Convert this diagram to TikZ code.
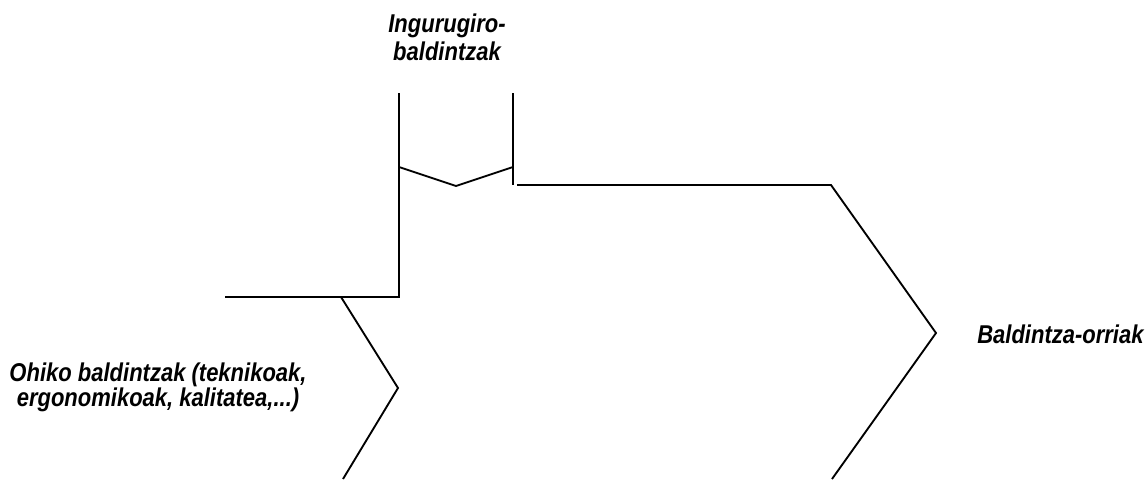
\documentclass[tikz,border=0pt]{standalone}
\usepackage{fontspec}
\setmainfont{Liberation Sans}
\usepackage{graphicx}
\begin{document}
\begin{tikzpicture}[x=0.75pt,y=-0.75pt,
  shapeline/.style={line width=1.4pt, line join=miter},
  lbl/.style={inner sep=0pt, align=center, yscale=1.17, transform shape,
    font=\fontsize{16.5}{18}\selectfont\bfseries\itshape}]
\useasboundingbox (0,0) rectangle (1146,479);
% coordinates
\coordinate (tl) at (399,93);
\coordinate (tr) at (513,93);
\coordinate (cl) at (399,167);
\coordinate (cm) at (456,186);
\coordinate (cr) at (513,167);
\coordinate (trb) at (513,185);
\coordinate (hs) at (517,185);
\coordinate (he) at (831,185);
\coordinate (rp) at (936,333);
\coordinate (rb) at (832,479);
\coordinate (lb) at (399,297);
\coordinate (lh) at (225,297);
\coordinate (ld) at (341,297);
\coordinate (lp) at (398,388);
\coordinate (lbb) at (343,479);
% shapes
\draw[shapeline] (tl) -- (lb) -- (lh);
\draw[shapeline] (tr) -- (trb);
\draw[shapeline] (cl) -- (cm) -- (cr);
\draw[shapeline] (hs) -- (he) -- (rp) -- (rb);
\draw[shapeline] (ld) -- (lp) -- (lbb);
% labels
\begin{scope}[shift={(447,60)}]
\node[lbl, anchor=base, font=\fontsize{16.5}{17.9}\selectfont\bfseries\itshape] (top) at (0,0) {Ingurugiro-\\baldintzak};
\end{scope}
\begin{scope}[shift={(158,406)}]
\node[lbl, anchor=base, font=\fontsize{16.5}{16}\selectfont\bfseries\itshape] (left) at (0,0) {Ohiko baldintzak (teknikoak,\\ergonomikoak, kalitatea,...)};
\end{scope}
\begin{scope}[shift={(977,343)}]
\node[lbl, anchor=base west] (right) at (0,0) {Baldintza-orriak};
\end{scope}
\end{tikzpicture}
\end{document}
